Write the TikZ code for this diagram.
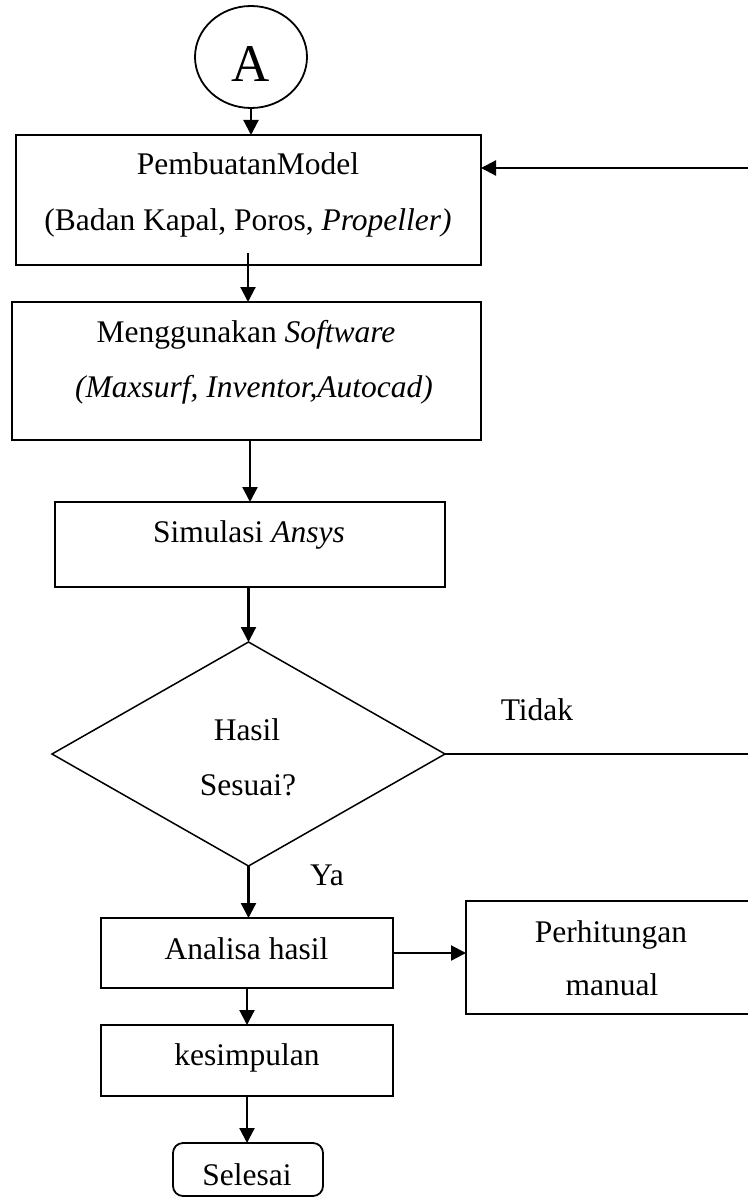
\documentclass[tikz,border=0pt]{standalone}
\usepackage{fontspec}
\setmainfont{Liberation Serif}
\usetikzlibrary{shapes.geometric,arrows.meta}
\begin{document}
\begin{tikzpicture}[x=1pt,y=-1pt,
  box/.style={draw,line width=1.8pt,rectangle,inner sep=0pt,outer sep=0pt},
  txt/.style={anchor=base,inner sep=0pt,font=\fontsize{31.5}{38}\selectfont},
  arr/.style={-{Triangle[length=15pt,width=15pt]},line width=2.2pt},
  ln/.style={line width=2.2pt}]
\useasboundingbox (0,0) rectangle (747,1198);
% shapes
\node[ellipse,draw,line width=1.8pt,minimum width=112pt,minimum height=102pt,inner sep=0pt,outer sep=0pt] (A) at (251,57) {};
\node[box,minimum width=465pt,minimum height=130pt] (B1) at (248.5,200) {};
\node[box,minimum width=469pt,minimum height=138pt] (B2) at (246.5,371) {};
\node[box,minimum width=390pt,minimum height=85pt] (B3) at (250,544.5) {};
\node[diamond,draw,line width=1.5pt,minimum width=393pt,minimum height=224pt,inner sep=0pt,outer sep=0pt,shape aspect=1.75] (D) at (248.5,754) {};
\node[box,minimum width=292pt,minimum height=70pt] (AH) at (247,953) {};
\node[box,minimum width=292pt,minimum height=113pt] (PM) at (612,957.5) {};
\node[box,minimum width=292pt,minimum height=71pt] (K) at (247,1060.5) {};
\node[box,rounded corners=10pt,minimum width=150pt,minimum height=53pt] (S) at (248,1169.5) {};
% texts
\node[anchor=base,inner sep=0pt,font=\fontsize{53}{60}\selectfont] (At) at (251,82) {A};
\node[txt] (t1a) at (248,175) {PembuatanModel};
\node[txt] (t1b) at (248,230) {(Badan Kapal, Poros, \textit{Propeller)}};
\node[txt] (t2a) at (246,342) {Menggunakan \textit{Software}};
\node[txt] (t2b) at (254,397) {\textit{(Maxsurf, Inventor,Autocad)}};
\node[txt] (t3) at (249,542) {Simulasi \textit{Ansys}};
\node[txt] (tD1) at (247,740) {Hasil};
\node[txt] (tD2) at (248,795) {Sesuai?};
\node[txt] (tT) at (537,720) {Tidak};
\node[txt] (tY) at (327,885) {Ya};
\node[txt] (tAH) at (246.5,959) {Analisa hasil};
\node[txt] (tPa) at (611,942) {Perhitungan};
\node[txt] (tPb) at (612,995) {manual};
\node[txt] (tK) at (247,1065) {kesimpulan};
\node[txt] (tS) at (247,1185) {Selesai};
% connectors
\coordinate (c12) at (248,253);
\coordinate (fbB) at (757,168);
\draw[arr] (A.south) -- (A.south |- B1.north);
\draw[arr] (c12) -- (c12 |- B2.north);
\draw[arr] (B3.north |- B2.south) -- (B3.north);
\draw[arr] (D.north |- B3.south) -- (D.north);
\draw[arr] (D.south) -- (D.south |- AH.north);
\draw[arr] (AH.south) -- (AH.south |- K.north);
\draw[arr] (AH.east) -- (AH.east -| PM.west);
\draw[arr] (K.south) -- (K.south |- S.north);
\draw[arr] (D.east) -- (D.east -| fbB) -- (fbB) -- (fbB -| B1.east);
\end{tikzpicture}
\end{document}
